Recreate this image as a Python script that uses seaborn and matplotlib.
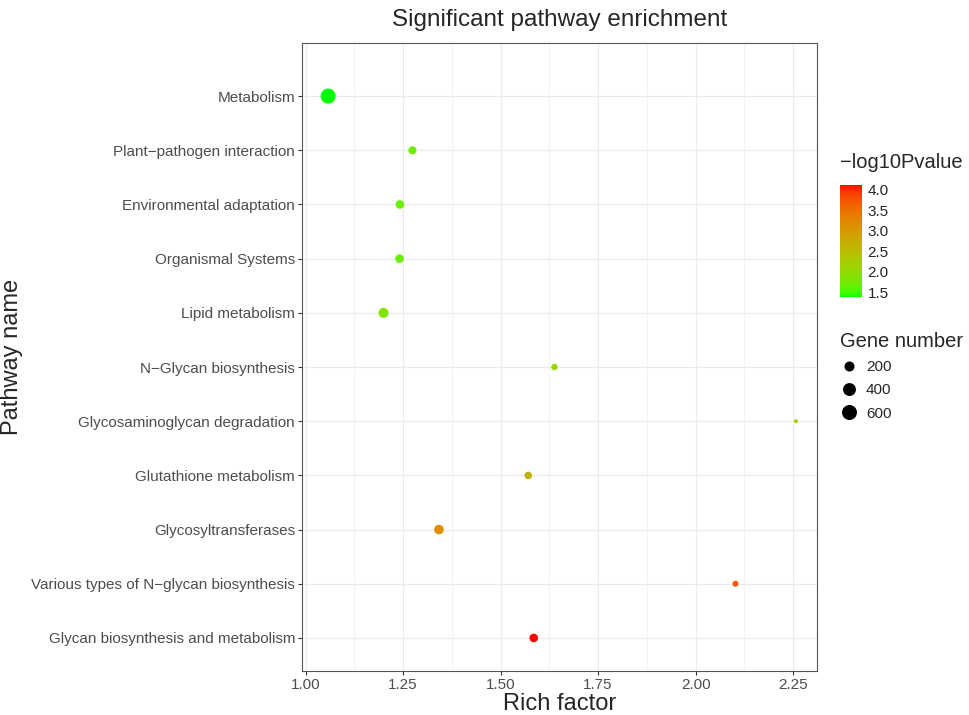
import numpy as np
import pandas as pd
import matplotlib
matplotlib.use("Agg")
import matplotlib.pyplot as plt
import matplotlib.colors as mcolors
from matplotlib.lines import Line2D
from matplotlib.ticker import MultipleLocator
import seaborn as sns

# data (top row first)
pathways = [
    "Metabolism",
    "Plant\u2212pathogen interaction",
    "Environmental adaptation",
    "Organismal Systems",
    "Lipid metabolism",
    "N\u2212Glycan biosynthesis",
    "Glycosaminoglycan degradation",
    "Glutathione metabolism",
    "Glycosyltransferases",
    "Various types of N\u2212glycan biosynthesis",
    "Glycan biosynthesis and metabolism",
]
rich_factor = [1.058, 1.274, 1.242, 1.241, 1.200, 1.638, 2.257, 1.571, 1.342, 2.102, 1.585]
neg_log10_p = [1.38, 1.71, 1.68, 1.68, 1.87, 2.07, 2.28, 2.60, 3.16, 3.72, 4.12]
gene_number = [610, 105, 125, 125, 200, 50, 8, 85, 175, 40, 125]

x_ticks = [1.00, 1.25, 1.50, 1.75, 2.00, 2.25]
cbar_ticks = [1.5, 2.0, 2.5, 3.0, 3.5, 4.0]
size_breaks = [200, 400, 600]

df = pd.DataFrame({"pathway": pathways, "rich": rich_factor,
                   "p": neg_log10_p, "genes": gene_number})

# green -> red gradient interpolated in CIELAB (like ggplot's scale_colour_gradient)
M = np.array([[0.4124, 0.3576, 0.1805], [0.2126, 0.7152, 0.0722], [0.0193, 0.1192, 0.9505]])
WHITE = np.array([0.95047, 1.0, 1.08883])


def to_lab(rgb):
    c = np.asarray(rgb, float)
    lin = np.where(c <= 0.04045, c / 12.92, ((c + 0.055) / 1.055) ** 2.4)
    xyz = M @ lin / WHITE
    f = np.where(xyz > (6 / 29) ** 3, np.cbrt(xyz), xyz / (3 * (6 / 29) ** 2) + 4 / 29)
    return np.array([116 * f[1] - 16, 500 * (f[0] - f[1]), 200 * (f[1] - f[2])])


def to_rgb(lab):
    L, a, b = lab
    fy = (L + 16) / 116
    f = np.array([fy + a / 500, fy, fy - b / 200])
    xyz = np.where(f > 6 / 29, f ** 3, 3 * (6 / 29) ** 2 * (f - 4 / 29)) * WHITE
    lin = np.clip(np.linalg.inv(M) @ xyz, 0, 1)
    c = np.where(lin <= 0.0031308, 12.92 * lin, 1.055 * lin ** (1 / 2.4) - 0.055)
    return np.clip(c, 0, 1)


lab_lo, lab_hi = to_lab([0, 1, 0]), to_lab([1, 0, 0])
cmap = mcolors.ListedColormap([to_rgb(lab_lo + t * (lab_hi - lab_lo)) for t in np.linspace(0, 1, 256)])
cnorm = mcolors.Normalize(min(neg_log10_p), max(neg_log10_p))

sns.set_style("white")
plt.rcParams["font.family"] = ["Liberation Sans", "DejaVu Sans"]

fig = plt.figure(figsize=(9.69, 7.15), dpi=100)
ax = fig.add_axes([302 / 969, 1 - 671 / 715, 515 / 969, 628 / 715])

snorm = mcolors.PowerNorm(gamma=0.8, vmin=min(gene_number), vmax=max(gene_number))
size_range = (8.3, 118)
sns.scatterplot(data=df, x="rich", y="pathway", hue="p", size="genes",
                palette=cmap, hue_norm=cnorm, sizes=size_range, size_norm=snorm,
                linewidth=0, legend=False, ax=ax, zorder=3)

ax.set_xlim(0.991, 2.311)
ax.set_ylim(len(pathways) - 1 + 0.61, -0.98)
ax.set_xticks(x_ticks)
ax.set_xticklabels([f"{v:.2f}" for v in x_ticks])
ax.xaxis.set_minor_locator(MultipleLocator(0.125))
ax.grid(True, which="major", color="#EBEBEB", lw=0.8)
ax.grid(True, which="minor", axis="x", color="#EBEBEB", lw=0.4)
ax.set_axisbelow(True)
for s in ax.spines.values():
    s.set_color("#555555")
    s.set_linewidth(0.8)
ax.tick_params(axis="both", which="major", length=3, width=0.8, color="#333333",
               labelsize=11, labelcolor="#4D4D4D", pad=2, bottom=True, left=True)
ax.tick_params(axis="both", which="minor", length=0)

ax.set_xlabel("Rich factor", fontsize=17)
ax.set_ylabel("Pathway name", fontsize=17)
ax.xaxis.set_label_coords(0.5, -(704 - 671) / 628)
ax.xaxis.label.set_verticalalignment("center")
ax.yaxis.set_label_coords(-(302 - 12) / 515, 0.5)
ax.yaxis.label.set_verticalalignment("center")
ax.set_title("Significant pathway enrichment", fontsize=17.5, pad=12)

# colour bar
cax = fig.add_axes([840 / 969, 1 - 297 / 715, 22 / 969, 112 / 715])
cb = fig.colorbar(plt.cm.ScalarMappable(norm=cnorm, cmap=cmap), cax=cax)
cb.outline.set_visible(False)
cb.set_ticks(cbar_ticks)
cb.set_ticklabels([f"{v:.1f}" for v in cbar_ticks])
cax.tick_params(axis="y", direction="in", color="white", length=4, width=0.8,
                left=True, right=True, labelsize=11, pad=4)
fig.text(840 / 969, 1 - 163 / 715, "\u2212log10Pvalue", fontsize=14.5, va="center")

# size legend
handles = [Line2D([], [], marker="o", linestyle="", color="black", markeredgewidth=0,
                  markersize=np.sqrt(size_range[0] + (size_range[1] - size_range[0]) * snorm(v)))
           for v in size_breaks]
leg = fig.legend(handles, [str(v) for v in size_breaks], title="Gene number",
                 loc="upper left", bbox_to_anchor=(834 / 969, 1 - 326 / 715),
                 frameon=False, fontsize=11, title_fontsize=14.5,
                 labelspacing=0.6, handletextpad=0.5, handlelength=1.2,
                 alignment="left", borderaxespad=0)

fig.savefig("out.png", dpi=100)
